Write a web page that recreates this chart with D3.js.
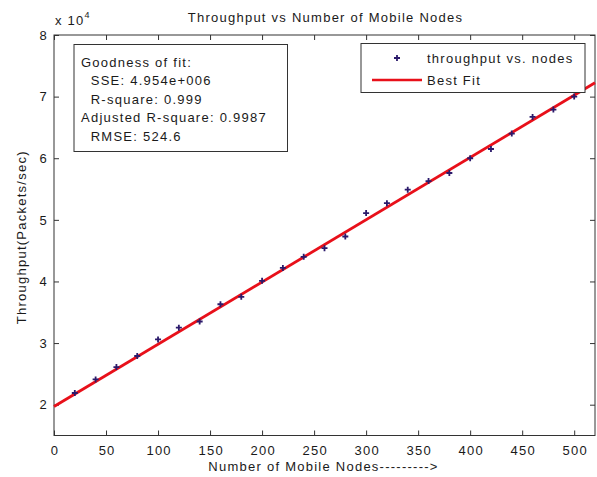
<!DOCTYPE html>
<html>
<head>
<meta charset="utf-8">
<script src="https://cdn.jsdelivr.net/npm/d3@7"></script>
<style>
  html, body { margin: 0; padding: 0; background: #fff; }
  svg { display: block; }
  text { font-family: "Liberation Sans", Arial, sans-serif; fill: #1a1a1a; letter-spacing: 1.25px; }
</style>
</head>
<body>
<svg id="chart" width="597" height="477"></svg>
<script>
// ---- data ----
const nodes = [20, 40, 60, 80, 100, 120, 140, 160, 180, 200, 220, 240, 260, 280, 300, 320, 340, 360, 380, 400, 420, 440, 460, 480, 500];
const throughput = [21900, 24100, 26100, 27900, 30600, 32500, 33500, 36300, 37500, 40100, 42200, 44000, 45400, 47300, 51100, 52700, 54900, 56300, 57600, 60000, 61500, 64000, 66700, 67900, 70000];
const fitX = [0, 520];
const fitY = [19700, 72250];
const xTicks = [0, 50, 100, 150, 200, 250, 300, 350, 400, 450, 500];
const yTicks = [20000, 30000, 40000, 50000, 60000, 70000, 80000];
const gofLines = ["Goodness of fit:", "  SSE: 4.954e+006", "  R-square: 0.999", "Adjusted R-square: 0.9987", "  RMSE: 524.6"];
const legendLabels = ["throughput vs. nodes", "Best Fit"];
const titleText = "Throughput vs Number of Mobile Nodes";
const xLabel = "Number of Mobile Nodes--------->";
const yLabel = "Throughput(Packets/sec)";

// ---- layout ----
const svg = d3.select("#chart");
const L = 54, R = 595, T = 35, B = 435.5;
const x = d3.scaleLinear().domain([0, 520]).range([L, R]);
const y = d3.scaleLinear().domain([15000, 80000]).range([B, T]);
const axisColor = "#333";
const fs = 13;
const ff = '"Liberation Sans", Arial, sans-serif';

// axes box
svg.append("rect").attr("x", L).attr("y", T).attr("width", R - L).attr("height", B - T)
  .attr("fill", "none").attr("stroke", axisColor).attr("stroke-width", 1);

// ticks via d3 axes (inner ticks)
const xb = svg.append("g").attr("transform", `translate(0,${B})`)
  .call(d3.axisBottom(x).tickValues(xTicks).tickSizeInner(-5).tickSizeOuter(0).tickPadding(10).tickFormat(d3.format("d")));
const xt = svg.append("g").attr("transform", `translate(0,${T})`)
  .call(d3.axisTop(x).tickValues(xTicks).tickSizeInner(-5).tickSizeOuter(0).tickFormat(""));
const yl = svg.append("g").attr("transform", `translate(${L},0)`)
  .call(d3.axisLeft(y).tickValues(yTicks).tickSizeInner(-5).tickSizeOuter(0).tickPadding(6).tickFormat(d => d / 10000));
const yr = svg.append("g").attr("transform", `translate(${R},0)`)
  .call(d3.axisRight(y).tickValues(yTicks).tickSizeInner(-5).tickSizeOuter(0).tickFormat(""));
[xb, xt, yl, yr].forEach(g => {
  g.select(".domain").remove();
  g.selectAll(".tick line").attr("stroke", axisColor);
  g.selectAll(".tick text").style("font-family", ff)
    .style("font-size", fs + "px").style("letter-spacing", "1.25px").attr("fill", "#1a1a1a");
});
xb.selectAll(".tick text").attr("dy", "0.71em").attr("y", 10).attr("dx", 0.6);

// exponent label
const ex = svg.append("text").attr("x", 55).attr("y", 25).style("font-size", fs + "px");
ex.append("tspan").text("x 10");
ex.append("tspan").attr("dy", -7).style("font-size", "9px").text("4");

// title & axis labels
svg.append("text").attr("x", (L + R) / 2 + 1).attr("y", 22).attr("text-anchor", "middle")
  .style("font-size", fs + "px").text(titleText);
svg.append("text").attr("x", (L + R) / 2 - 1).attr("y", 471).attr("text-anchor", "middle")
  .style("font-size", fs + "px").text(xLabel);
svg.append("text").attr("transform", `translate(26,${(T + B) / 2 + 2}) rotate(-90)`)
  .attr("text-anchor", "middle").style("font-size", fs + "px").text(yLabel);

// fit line
const line = d3.line().x((d, i) => x(fitX[i])).y(d => y(d));
svg.append("path").datum(fitY).attr("d", line)
  .attr("fill", "none").attr("stroke", "#e8101a").attr("stroke-width", 2.8);

// data markers
const mk = svg.append("g");
nodes.forEach((n, i) => {
  const cx = x(n), cy = y(throughput[i]);
  mk.append("path").attr("d", `M${cx - 3},${cy}H${cx + 3}M${cx},${cy - 3}V${cy + 3}`)
    .attr("stroke", "#2b1a6b").attr("stroke-width", 1.8);
});

// goodness of fit box
const gb = svg.append("g");
gb.append("rect").attr("x", 74).attr("y", 44.5).attr("width", 213.5).attr("height", 107)
  .attr("fill", "#fff").attr("stroke", axisColor).attr("stroke-width", 1);
gofLines.forEach((t, i) => {
  gb.append("text").attr("x", 81).attr("y", 66.5 + i * 18.5).attr("xml:space", "preserve")
    .style("white-space", "pre").style("font-size", fs + "px").text(t);
});

// legend
const lg = svg.append("g");
lg.append("rect").attr("x", 361).attr("y", 43.5).attr("width", 224).attr("height", 49)
  .attr("fill", "#fff").attr("stroke", axisColor).attr("stroke-width", 1);
const lmx = 397, lmy = 58;
lg.append("path").attr("d", `M${lmx - 3},${lmy}H${lmx + 3}M${lmx},${lmy - 3}V${lmy + 3}`)
  .attr("stroke", "#2b1a6b").attr("stroke-width", 1.8);
lg.append("line").attr("x1", 372).attr("x2", 422).attr("y1", 80).attr("y2", 80)
  .attr("stroke", "#e8101a").attr("stroke-width", 2.4);
legendLabels.forEach((t, i) => {
  lg.append("text").attr("x", 427).attr("y", 62.5 + i * 22).style("font-size", fs + "px").text(t);
});
</script>
</body>
</html>
